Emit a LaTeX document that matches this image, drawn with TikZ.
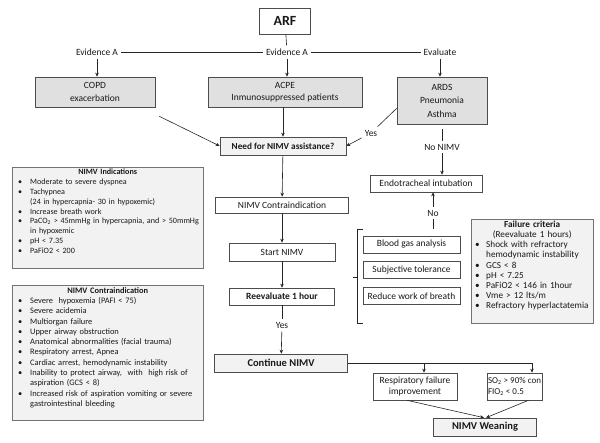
\documentclass[tikz,border=0pt]{standalone}
\usepackage{fontspec}
\setmainfont{Carlito}
\usetikzlibrary{arrows.meta,calc}
\newcommand{\bitem}[1]{\par\noindent\hbox to 18pt{\hspace{6pt}\textbullet\hfil}\mbox{#1}\par}
\newcommand{\citem}[1]{\par\noindent\hspace*{18pt}\mbox{#1}\par}
\newcommand{\fitem}[1]{\par\noindent\hbox to 15pt{\hspace{4pt}\textbullet\hfil}\mbox{#1}\par}
\newcommand{\fcont}[1]{\par\noindent\hspace*{15pt}\mbox{#1}\par}
\newcommand{\ttl}[1]{{\centering\bfseries #1\par}}
\begin{document}
\begin{tikzpicture}[x=1pt,y=-1pt,
  box/.style={draw=black!70, line width=0.6pt, inner sep=1pt, align=center, font=\fontsize{9.5}{11}\selectfont, text=black!90},
  gbox/.style={box, fill=black!12, font=\fontsize{9.5}{12.5}\selectfont},
  lbox/.style={box, fill=black!5},
  lbl/.style={inner sep=3pt, font=\fontsize{9.5}{11}\selectfont, text=black!90},
  arr/.style={-{Stealth[length=4pt,width=3.5pt]}, line width=0.6pt, draw=black!85},
  ln/.style={line width=0.6pt, draw=black!85},
  lst/.style={draw=black!55, fill=black!5, line width=0.6pt, inner sep=0, anchor=north west},
  lsttxt/.style={anchor=north west, inner sep=0, text width=#1, align=left, font=\fontsize{8.1}{9.8}\selectfont, text=black!90}
]
\useasboundingbox (0,0) rectangle (600,442);

% top
\node[box, line width=0.8pt, minimum width=51pt, minimum height=26pt, font=\bfseries\fontsize{14}{16}\selectfont] (arf) at (285,21) {ARF};
\node[lbl] (ev1) at (97,52) {Evidence A};
\node[lbl] (ev2) at (287,52) {Evidence A};
\node[lbl] (eval) at (440,52) {Evaluate};
\node[gbox, minimum width=120pt, minimum height=30pt] (copd) at (95,92) {COPD\\exacerbation};
\node[gbox, minimum width=154pt, minimum height=30pt] (acpe) at (285,92) {ACPE\\Inmunosuppressed patients};
\node[gbox, minimum width=90pt, minimum height=47pt, font=\fontsize{9.5}{13.5}\selectfont] (ards) at (442,100.5) {ARDS\\Pneumonia\\Asthma};

% central column
\node[lbox, font=\bfseries\fontsize{9.2}{10}\selectfont, minimum width=126pt, minimum height=18pt] (need) at (283,146) {Need for NIMV assistance?};
\node[lbl] (yes1) at (371,133) {Yes};
\node[lbl] (nonimv) at (442,147) {No NIMV};
\node[box, minimum width=112pt, minimum height=17pt] (endo) at (426,183.5) {Endotracheal intubation};
\node[lbl] (no) at (433,213) {No};
\coordinate (brk) at (433,229);

\node[box, minimum width=133pt, minimum height=16pt] (contra) at (282,205) {NIMV Contraindication};
\node[box, minimum width=106pt, minimum height=18pt] (start) at (282,252) {Start NIMV};
\node[box, font=\bfseries\fontsize{9.5}{11}\selectfont, minimum width=105pt, minimum height=17pt] (reeval) at (282,296.5) {Reevaluate 1 hour};
\node[lbl] (yes2) at (282,325) {Yes};
\node[lbox, font=\bfseries\fontsize{10.5}{12}\selectfont, minimum width=133pt, minimum height=18pt] (cont) at (281,363) {Continue NIMV};

% monitoring boxes
\node[box, minimum width=97pt, minimum height=17pt] (bga) at (411.5,244.5) {Blood gas analysis};
\node[box, minimum width=97pt, minimum height=17pt] (subj) at (411.5,270) {Subjective tolerance};
\node[box, minimum width=97pt, minimum height=17pt] (rwb) at (411.5,296) {Reduce work of breath};
\draw[ln] (363,229) -- (357,229) -- (357,323) -- (363,323);
\draw[ln] (353,277) -- (357,277);

% failure criteria
\node[lst, minimum width=122pt, minimum height=104pt] (fail) at (471,219) {};
\node[lsttxt=122pt, font=\fontsize{9.2}{10.1}\selectfont] (failtxt) at ([yshift=-2pt]fail.north west) {%
\ttl{Failure criteria}
{\centering (Reevaluate 1 hours)\par}
\fitem{Shock with refractory}
\fcont{hemodynamic instability}
\fitem{GCS < 8}
\fitem{pH < 7.25}
\fitem{PaFiO2 < 146 in 1hour}
\fitem{Vme > 12 lts/m}
\fitem{Refractory hyperlactatemia}};

% left lists
\node[lst, minimum width=191pt, minimum height=101pt] (ind) at (12,167) {};
\node[lsttxt=191pt] (indtxt) at ([yshift=-2pt]ind.north west) {%
\ttl{NIMV Indications}
\bitem{Moderate to severe dyspnea}
\bitem{Tachypnea}
\citem{(24 in hypercapnia- 30 in hypoxemic)}
\bitem{Increase breath work}
\bitem{PaCO\textsubscript{2} > 45mmHg in hypercapnia, and > 50mmHg}
\citem{in hypoxemic}
\bitem{pH < 7.35}
\bitem{PaFiO2 < 200}};

\node[lst, minimum width=191pt, minimum height=135pt] (ci) at (12,285) {};
\node[lsttxt=191pt, font=\fontsize{8.4}{10.3}\selectfont] (citxt) at ([yshift=-2pt]ci.north west) {%
\ttl{NIMV Contraindication}
\bitem{Severe\ \ hypoxemia (PAFI < 75)}
\bitem{Severe acidemia}
\bitem{Multiorgan failure}
\bitem{Upper airway obstruction}
\bitem{Anatomical abnormalities (facial trauma)}
\bitem{Respiratory arrest, Apnea}
\bitem{Cardiac arrest, hemodynamic instability}
\bitem{Inability to protect airway,\ \ with\ \ high risk of}
\citem{aspiration (GCS < 8)}
\bitem{Increased risk of aspiration vomiting or severe}
\citem{gastrointestinal bleeding}};

% bottom
\node[box, minimum width=84pt, minimum height=27pt] (resp) at (415,386.5) {Respiratory failure\\improvement};
\node[box, align=left, font=\fontsize{9}{11}\selectfont, minimum width=54pt, minimum height=27pt] (so2) at (514.5,386.5) {SO\textsubscript{2} > 90\% con\\FIO\textsubscript{2} < 0.5};
\node[lbox, font=\bfseries\fontsize{10.5}{12}\selectfont, minimum width=103pt, minimum height=18pt] (wean) at (485,427) {NIMV Weaning};

% connectors
\draw[ln] (arf) -- (ev2);
\draw[ln] (ev1) -- (ev2);
\draw[ln] (ev2) -- (eval);
\draw[arr] (ev1) -- (ev1 |- copd.north);
\draw[arr] (ev2) -- (ev2 |- acpe.north);
\draw[arr] (eval) -- (eval |- ards.north);
\draw[arr] ([shift={(4pt,-9pt)}]copd.south east) -- (need.west);
\draw[arr] (need |- acpe.south) -- (need.north);
\draw[ln] ([yshift=16pt]ards.south west) -- (yes1);
\draw[arr] (yes1) -- (need.east);
\draw[ln, shorten <=5pt] (ards.south) -- (nonimv.north);
\draw[arr] (nonimv) -- (nonimv |- endo.north);
\draw[arr] (no) -- (no |- endo.south);
\draw[ln] (brk) -- (no);
\draw[arr] (need) -- (contra);
\draw[arr] (contra) -- (start);
\draw[arr] (start) -- (reeval);
\draw[ln] (reeval) -- (yes2);
\draw[arr] (yes2) -- (cont);
\coordinate (br) at (532,363);
\coordinate (bl) at (424,363);
\draw[ln] (cont.east) -- (br);
\draw[arr] (bl) -- (bl |- resp.north);
\draw[arr] (br) -- (br |- so2.north);
\draw[arr] ([xshift=-8pt]resp.south) -- ([xshift=-1pt]wean.north);
\draw[arr] ([xshift=14pt]so2.south) -- ([xshift=1pt]wean.north);
\end{tikzpicture}
\end{document}
